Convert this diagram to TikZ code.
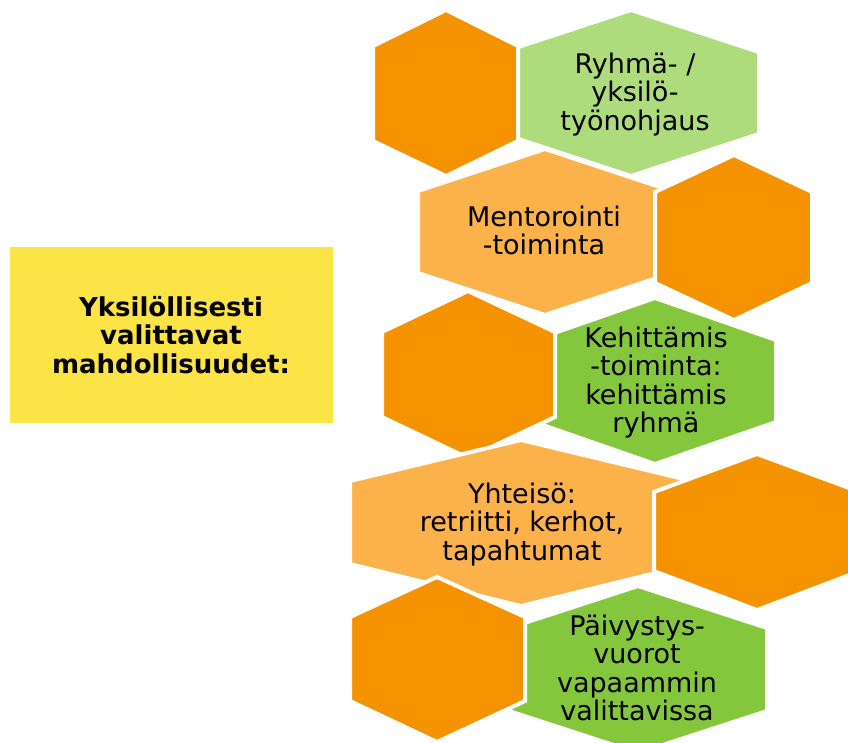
\documentclass[tikz,border=0pt]{standalone}
\usepackage{fontspec}
\setmainfont{DejaVu Sans}
\definecolor{hexorange}{HTML}{F49200}
\definecolor{lightorange}{HTML}{FBB24B}
\definecolor{lightgreen}{HTML}{AEDC7D}
\definecolor{midgreen}{HTML}{84C63C}
\definecolor{boxyellow}{HTML}{FDE446}
\begin{document}
\begin{tikzpicture}[x=1pt,y=-1pt,
  hexshape/.style={draw=white,line width=4pt,line join=miter},
  txt/.style={font=\fontsize{27}{28.5}\selectfont,align=center,inner sep=0pt,anchor=north,text=black},
  boldtxt/.style={txt,font=\fontsize{26}{28.5}\selectfont\bfseries}]
\useasboundingbox (0,0) rectangle (848,743);
% left box
\fill[boxyellow] (10,247) rectangle (333,423);
\node[boldtxt] (title) at (171,292) {\rule{0pt}{24pt}Yksilöllisesti\\valittavat\\mahdollisuudet:};
% row 1
\filldraw[hexshape,fill=lightgreen] (631,10) -- (503,52) -- (503,134) -- (631,176) -- (759,134) -- (759,52) -- cycle;
\filldraw[hexshape,fill=hexorange] (446,10) -- (373,46) -- (373,141) -- (446,176) -- (518,141) -- (518,46) -- cycle;
% row 2
\filldraw[hexshape,fill=lightorange] (545,149) -- (418,191) -- (418,273) -- (545,315) -- (672,273) -- (672,191) -- cycle;
\filldraw[hexshape,fill=hexorange] (734,155) -- (655,192) -- (655,283) -- (734,320) -- (812,283) -- (812,192) -- cycle;
% row 3
\filldraw[hexshape,fill=midgreen] (655,298) -- (534,340) -- (534,422) -- (655,464) -- (776,422) -- (776,340) -- cycle;
\filldraw[hexshape,fill=hexorange] (468,291) -- (382,332) -- (382,417) -- (468,458) -- (555,417) -- (555,332) -- cycle;
% row 4
\filldraw[hexshape,fill=lightorange] (521,440) -- (350,481) -- (350,564) -- (521,606) -- (692,564) -- (692,481) -- cycle;
\filldraw[hexshape,fill=hexorange] (757,454) -- (654,492) -- (654,571) -- (757,610) -- (860,571) -- (860,492) -- cycle;
% row 5
\filldraw[hexshape,fill=midgreen] (638,586) -- (509,628) -- (509,711) -- (638,753) -- (767,711) -- (767,628) -- cycle;
\filldraw[hexshape,fill=hexorange] (437,577) -- (350,617) -- (350,701) -- (437,742) -- (525,701) -- (525,617) -- cycle;
% texts
\node[txt] (ryhma) at (635,49) {\rule{0pt}{24pt}Ryhmä- /\\yksilö-\\työnohjaus};
\node[txt] (mentor) at (544,202) {\rule{0pt}{24pt}Mentorointi\\-toiminta};
\node[txt] (kehit) at (656,323) {\rule{0pt}{24pt}Kehittämis\\-toiminta:\\kehittämis\\ryhmä};
\node[txt] (yhteiso) at (522,479) {\rule{0pt}{24pt}Yhteisö:\\retriitti, kerhot,\\tapahtumat};
\node[txt] (paivystys) at (637,611) {\rule{0pt}{24pt}Päivystys-\\vuorot\\vapaammin\\valittavissa};
\end{tikzpicture}
\end{document}
